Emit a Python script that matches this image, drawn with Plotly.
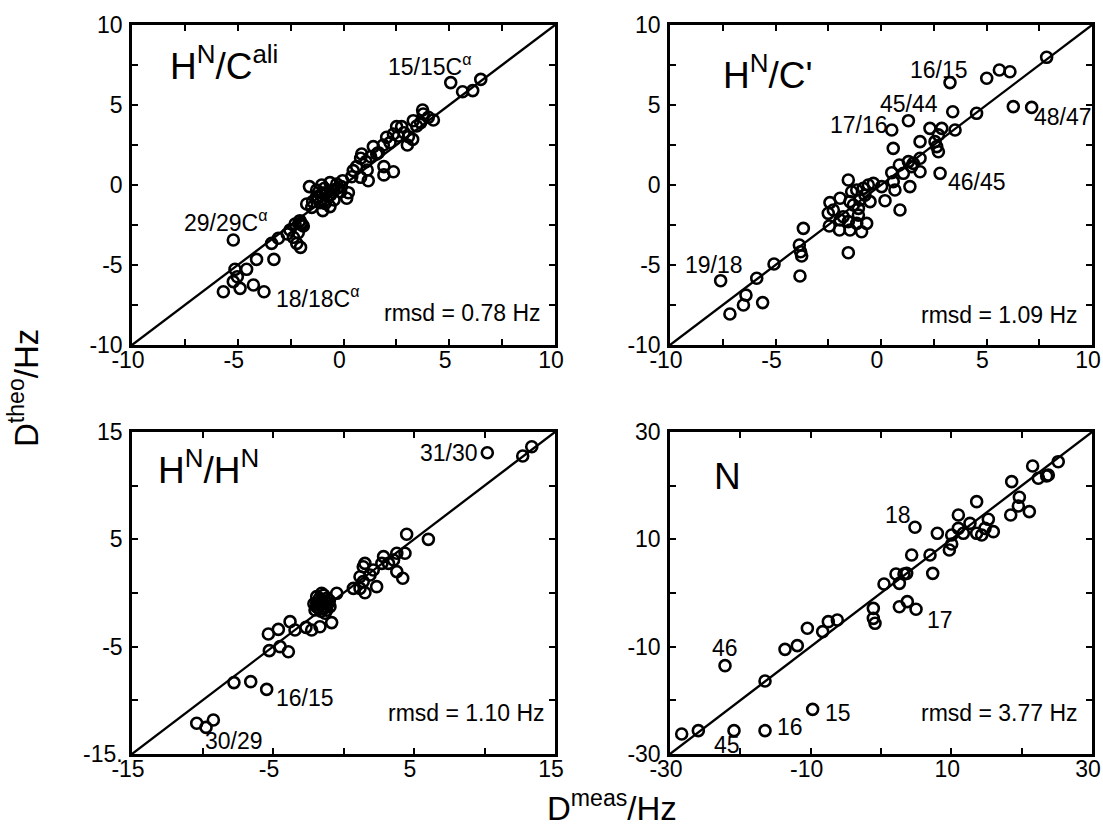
import plotly.graph_objects as go

# ---------------- data ----------------
# Panel 1: HN/Cali
cali_meas = [5.07, 5.63, 6.11, 6.49, 3.74, 3.77, 3.30, 3.65, 4.25, 4.01, 3.46,
             2.51, 2.75, 2.36, 2.59, 2.86, 3.07, 2.04, 3.27, 2.20,
             1.88, 1.41, 3.02, 1.65, 1.28, 0.86, 0.81, 1.06, 1.57, 1.91,
             2.36, 1.91, 1.12, 1.17, 0.62, 0.46, 0.39, 0.81, -0.04, -0.32,
             -0.64, -1.03, -1.61, -1.27, -0.83, -0.45, -0.13, 0.23, 0.15, -1.27,
             -1.46, -1.74, -0.98, -0.64, -1.11, -0.45, -0.67, -0.87, -2.06, -2.29,
             -1.90, -2.53, -2.66, -2.14, -2.37, -2.03, -2.21, -3.08, -3.40, -3.29,
             -4.11, -5.21, -5.13, -4.58, -5.02, -5.21, -4.89, -4.26, -5.68, -3.76,
             -0.9, -0.6, -1.2, -0.3, -0.8, -1.5, -0.1, -1.0, -2.0, -2.1, -1.95]
cali_theo = [6.40, 5.83, 5.90, 6.60, 4.69, 4.44, 4.02, 3.90, 4.06, 4.23, 3.69,
             3.65, 3.65, 3.19, 3.06, 3.27, 3.02, 2.98, 2.85, 2.65,
             2.50, 2.40, 2.50, 2.02, 1.77, 1.94, 1.67, 1.46, 1.94, 1.15,
             0.83, 0.63, 0.94, 0.27, 1.15, 0.90, 0.52, 0.48, 0.27, 0.06,
             0.15, 0.00, -0.10, -0.31, -0.48, -0.31, -0.42, -0.48, -0.83, -0.73,
             -1.04, -1.19, -1.60, -1.35, -1.10, -0.94, -0.63, -1.15, -2.23, -2.44,
             -2.56, -2.81, -3.06, -2.98, -3.27, -3.90, -3.65, -3.33, -3.65, -4.65,
             -4.65, -3.44, -5.27, -5.27, -5.73, -6.04, -6.46, -6.25, -6.67, -6.67,
             -0.2, -0.6, -0.8, -0.2, -0.9, -1.4, -0.1, -0.5, -2.4, -2.3, -2.5]

# Panel 2: HN/C'
cp_meas = [7.85, 5.01, 5.61, 6.11, 3.27, 6.27, 7.14, 4.53, 3.40, 3.51,
           1.30, 0.51, 0.58, 2.32, 2.88, 2.72, 2.56, 2.64, 2.72, 1.85,
           1.85, 1.53, 1.30, 1.45, 0.87, 0.51, 1.06, 1.85, 2.80, 0.58,
           0.66, 1.37, 0.90, 0.19, 0.03, -0.36, -0.60, -0.84, -1.15, -1.39,
           -0.76, -1.00, -1.55, -1.31, -1.47, -1.94, -2.42, -2.50, -2.26, -1.94,
           -1.79, -1.55, -1.07, -1.15, -0.68, -0.92, -1.47, -1.97, -2.45, -1.55,
           -1.07, -0.52, -3.68, -3.87, -3.81, -3.76, -3.84, -5.07, -5.89, -6.40,
           -6.52, -5.61, -7.16, -7.60]
cp_theo = [7.98, 6.67, 7.19, 7.08, 6.40, 4.90, 4.85, 4.48, 4.58, 3.44,
           4.02, 3.44, 2.29, 3.54, 3.54, 3.13, 2.71, 2.40, 2.08, 2.71,
           1.67, 1.35, 1.46, 1.15, 1.25, 0.77, 0.73, 0.83, 0.73, 0.21,
           -0.31, -0.10, -1.56, -0.98, -0.10, 0.10, 0.00, -0.21, -0.31, -0.42,
           -0.63, -0.94, 0.31, -1.25, -1.04, -0.83, -1.10, -1.77, -1.56, -2.19,
           -1.98, -2.29, -1.88, -2.40, -2.40, -2.92, -2.81, -2.81, -2.56, -4.23,
           -1.46, -1.04, -2.71, -3.75, -4.17, -4.44, -5.69, -4.94, -5.83, -6.88,
           -7.50, -7.35, -8.06, -5.98]

# Panel 3: HN/HN
hh_meas = [10.20, 12.71, 13.35, 4.48, 6.02, 4.36, 3.78, 2.84, 2.72, 3.19, 3.55, 3.78, 4.20,
           1.52, 1.40, 2.11, 1.88, 1.17, 1.40, 2.35, 1.52, 0.70, 1.17, -0.48,
           -1.90, -1.55, -1.19, -1.67, -2.02, -1.43, -1.08, -1.90, -1.31, -1.55, -0.96,
           -1.6, -1.3, -1.8, -1.2,
           -0.84, -1.67, -2.26, -2.66, -3.44, -3.79, -4.62, -5.33, -5.26, -4.50, -3.91,
           -7.77, -6.58, -5.45, -10.41, -9.75, -9.23,
           -1.7, -1.4, -1.9, -1.2, -1.6, -2.1, -1.0, -1.5]
hh_theo = [13.07, 12.76, 13.63, 5.47, 5.00, 3.70, 3.70, 3.39, 2.76, 2.76, 3.07, 1.99, 1.37,
           2.76, 2.45, 2.14, 1.68, 1.52, 1.06, 0.59, 0.03, 0.43, 0.43, -0.03,
           -0.34, -0.65, -0.50, -1.12, -1.58, -1.43, -0.96, -0.96, -1.89, -0.03, -1.27,
           -0.8, -0.8, -1.4, -1.6,
           -2.76, -3.14, -3.45, -3.20, -3.45, -2.67, -3.39, -3.82, -5.37, -5.00, -5.47,
           -8.35, -8.26, -8.98, -12.14, -12.52, -11.83,
           -0.5, -0.2, -1.3, -1.3, -1.7, -1.0, -0.7, -1.0]

# Panel 4: N
n_meas = [-28.34, -25.97, -20.90, -16.49, -9.72, -22.18, -16.49, -13.65, -11.90, -10.47,
          -8.29, -7.49, -6.21, -1.09, -1.09, -0.85, 2.61, 3.74, 4.98,
          0.43, 2.13, 2.61, 3.27, 3.65, 4.36, 7.35, 6.97, 4.83, 8.01,
          9.72, 10.05, 10.05, 11.0, 11.0, 11.71, 12.65, 13.60, 14.31, 13.60, 15.26, 15.97, 14.79,
          18.58, 19.67, 19.53, 18.44, 21.09, 21.56, 22.37, 23.55, 25.2, 23.79]
n_theo = [-26.27, -25.65, -25.65, -25.65, -21.68, -13.54, -16.40, -10.50, -9.81, -6.58,
          -7.20, -5.34, -5.03, -2.86, -4.72, -5.65, -2.55, -1.61, -3.04,
          1.68, 3.54, 1.80, 3.54, 3.66, 7.08, 3.66, 7.08, 12.24, 11.12,
          8.01, 9.13, 10.81, 12.05, 14.53, 11.12, 12.98, 11.12, 10.81, 17.02, 13.73, 11.43, 12.05,
          20.75, 17.83, 16.21, 14.53, 15.16, 23.66, 21.37, 21.80, 24.47, 21.99]

# axis ranges and ticks
small_range = [-10, 10]
small_ticks = [-10, -7.5, -5, -2.5, 0, 2.5, 5, 7.5, 10]
small_ticktext = ["-10", "", "-5", "", "0", "", "5", "", "10"]
hh_range = [-15, 15]
hh_ticks = [-15, -10, -5, 0, 5, 10, 15]
hh_xticktext = ["-15", "", "-5", "", "5", "", "15"]
hh_yticktext = ["-15.", "", "-5", "", "5", "", "15"]
n_range = [-30, 30]
n_ticks = [-30, -20, -10, 0, 10, 20, 30]
n_ticktext = ["-30", "", "-10", "", "10", "", "30"]

panel_titles = ["H<sup>N</sup>/C<sup>ali</sup>", "H<sup>N</sup>/C'", "H<sup>N</sup>/H<sup>N</sup>", "N"]
rmsd_texts = ["rmsd = 0.78 Hz", "rmsd = 1.09 Hz", "rmsd = 1.10 Hz", "rmsd = 3.77 Hz"]

cali_labels = ["15/15C<sup>α</sup>", "29/29C<sup>α</sup>", "18/18C<sup>α</sup>"]
cp_labels = ["16/15", "45/44", "17/16", "46/45", "48/47", "19/18"]
hh_labels = ["31/30", "16/15", "30/29"]
n_labels = ["18", "17", "46", "15", "16", "45"]

# ---------------- figure ----------------
FONT = "Liberation Sans, Arial, Helvetica, sans-serif"
W, H = 1103, 830

# panel pixel boxes (left, right, top, bottom)
boxes = [(132, 555, 25, 345), (670, 1092, 25, 345),
         (132, 555, 432, 754), (670, 1092, 432, 754)]

fig = go.Figure()

panels = [
    (cali_meas, cali_theo, small_range, small_ticks, small_ticktext, small_ticktext),
    (cp_meas, cp_theo, small_range, small_ticks, small_ticktext, small_ticktext),
    (hh_meas, hh_theo, hh_range, hh_ticks, hh_xticktext, hh_yticktext),
    (n_meas, n_theo, n_range, n_ticks, n_ticktext, n_ticktext),
]

layout_axes = {}
for i, (xs, ys, rng, ticks, xtt, ytt) in enumerate(panels):
    idx = "" if i == 0 else str(i + 1)
    l, r, t, b = boxes[i]
    common = dict(range=rng, tickvals=ticks,
                  ticks="inside", ticklen=6, tickwidth=2, tickcolor="black",
                  showline=True, linecolor="black", linewidth=2.5, mirror="ticks",
                  showgrid=False, zeroline=False, automargin=False, fixedrange=True,
                  ticklabeloverflow="allow",
                  tickfont=dict(family=FONT, size=23, color="black"))
    xa = dict(common, domain=[l / W, r / W], ticktext=xtt, anchor="y" + idx,
              ticklabelstandoff=-7, ticklabelshift=-4)
    ya = dict(common, domain=[1 - b / H, 1 - t / H], ticktext=ytt, anchor="x" + idx,
              ticklabelstandoff=2)
    layout_axes["xaxis" + idx] = xa
    layout_axes["yaxis" + idx] = ya
    fig.add_trace(go.Scatter(x=rng, y=rng, mode="lines",
                             line=dict(color="black", width=2.3),
                             xaxis="x" + idx, yaxis="y" + idx, showlegend=False,
                             hoverinfo="skip"))
    fig.add_trace(go.Scatter(x=xs, y=ys, mode="markers",
                             marker=dict(symbol="circle-open", size=11, color="black",
                                         line=dict(width=2.6)),
                             xaxis="x" + idx, yaxis="y" + idx, showlegend=False))

fig.update_layout(**layout_axes)

annotations = []


def ann(text, x, y, ref, size=23, xanchor="left"):
    annotations.append(dict(text=text, x=x, y=y, xref="x" + ref, yref="y" + ref,
                            xanchor=xanchor, yanchor="middle", showarrow=False,
                            font=dict(family=FONT, size=size, color="black")))


# panel titles
ann(panel_titles[0], -8.3, 7.6, "", size=37)
ann(panel_titles[1], -7.6, 7.05, "2", size=37)
ann(panel_titles[2], -13.3, 11.7, "3", size=37)
ann(panel_titles[3], -24.1, 21.8, "4", size=37)

# rmsd
ann(rmsd_texts[0], 9.45, -8.0, "", xanchor="right")
ann(rmsd_texts[1], 9.45, -8.12, "2", xanchor="right")
ann(rmsd_texts[2], 14.4, -11.2, "3", xanchor="right")
ann(rmsd_texts[3], 28.3, -22.4, "4", xanchor="right")

# point labels
for txt, x, y in zip(cali_labels, [2.0, -7.65, -3.3], [7.5, -2.25, -7.0]):
    ann(txt, x, y, "")
for txt, x, y in zip(cp_labels, [1.28, -0.14, -2.51, 3.08, 7.14, -9.38],
                     [7.19, 5.04, 3.75, 0.21, 4.27, -5.0]):
    ann(txt, x, y, "2")
for txt, x, y in zip(hh_labels, [5.3, -4.93, -9.94], [13.0, -9.81, -13.76]):
    ann(txt, x, y, "3")
for txt, x, y in zip(n_labels, [0.24, 6.26, -24.31, -8.2, -15.07, -24.07],
                     [14.53, -5.03, -10.3, -22.4, -24.9, -28.3]):
    ann(txt, x, y, "4")

# axis titles
annotations.append(dict(text="D<sup>theo</sup>/Hz", x=24 / W, y=1 - 388 / H,
                        xref="paper", yref="paper", textangle=-90,
                        xanchor="center", yanchor="middle", showarrow=False,
                        font=dict(family=FONT, size=33, color="black")))
annotations.append(dict(text="D<sup>meas</sup>/Hz", x=612 / W, y=1 - 806 / H,
                        xref="paper", yref="paper",
                        xanchor="center", yanchor="middle", showarrow=False,
                        font=dict(family=FONT, size=33, color="black")))

fig.update_layout(width=W, height=H, margin=dict(l=0, r=0, t=0, b=0, autoexpand=False),
                  paper_bgcolor="white", plot_bgcolor="white",
                  annotations=annotations, showlegend=False)

fig.write_html("out.html")
